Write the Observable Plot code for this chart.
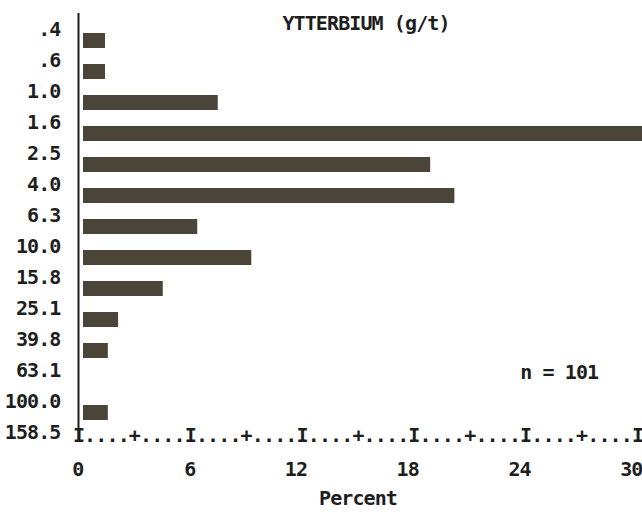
<!DOCTYPE html>
<html>
<head>
<meta charset="utf-8">
<script src="https://cdn.jsdelivr.net/npm/d3@7"></script>
<script src="https://cdn.jsdelivr.net/npm/@observablehq/plot@0.6"></script>
<style>
  html, body { margin: 0; padding: 0; background: white; }
  #chart svg text { letter-spacing: -0.9px; }
</style>
</head>
<body>
<div id="chart"></div>
<script>
// Class boundaries (g/t) shown on the y axis
const classLabels = [".4", ".6", "1.0", "1.6", "2.5", "4.0", "6.3", "10.0", "15.8", "25.1", "39.8", "63.1", "100.0", "158.5"];
// Each bar belongs to the interval that starts at this boundary
const binLower = [".4", ".6", "1.0", "1.6", "2.5", "4.0", "6.3", "10.0", "15.8", "25.1", "39.8", "63.1", "100.0"];
// Percent of samples per interval
const percentValues = [1.45, 1.45, 7.5, 30.5, 18.9, 20.2, 6.4, 9.3, 4.55, 2.15, 1.6, 0, 1.6];
// x axis tick labels
const xTickValues = [0, 6, 12, 18, 24, 30];
// printer-style x axis characters, one per 0.6 %
const axisStep = 0.6;
const axisChars = d3.range(51).map(i => ({x: i * axisStep, c: i % 10 === 0 ? "I" : (i % 5 === 0 ? "+" : ".")}));

const titleText = "YTTERBIUM (g/t)";
const noteText = "n = 101";
const xLabelText = "Percent";

const bars = binLower.map((b, i) => ({bin: b, pct: percentValues[i]})).filter(d => d.pct > 0);
const lastLabel = classLabels[classLabels.length - 1];

const ink = "#1e1e1e";
const barColor = "#4a4538";

const chart = Plot.plot({
  width: 642,
  height: 512,
  marginLeft: 78,
  marginRight: 5,
  marginTop: 11,
  marginBottom: 61,
  x: {domain: [0, 30]},
  y: {domain: classLabels, padding: 0},
  style: {
    fontFamily: "'DejaVu Sans Mono', monospace",
    fontWeight: "bold",
    fontSize: "20px",
    color: ink,
    background: "white"
  },
  marks: [
    Plot.barX(bars, {x: "pct", y: "bin", fill: barColor, insetLeft: 5, insetTop: 8, insetBottom: 8, dy: 11}),
    Plot.axisY({tickSize: 0, tickPadding: 18, fill: ink, label: null}),
    Plot.axisX({ticks: xTickValues, tickSize: 0, tickPadding: 10, textAnchor: "end", dx: 5, fill: ink, label: null}),
    Plot.ruleX([0], {stroke: ink, strokeWidth: 2, insetTop: 2, insetBottom: 10}),
    Plot.text(axisChars, {x: "x", y: () => lastLabel, text: "c", fill: ink, dy: 3}),
    Plot.text([titleText], {frameAnchor: "top", lineAnchor: "middle", dx: 8, dy: 12, fill: ink}),
    Plot.text([noteText], {x: 25.8, y: () => "63.1", fill: ink, dy: 2}),
    Plot.text([xLabelText], {frameAnchor: "bottom", lineAnchor: "middle", dy: 47, fill: ink})
  ]
});
document.getElementById("chart").appendChild(chart);
</script>
</body>
</html>
